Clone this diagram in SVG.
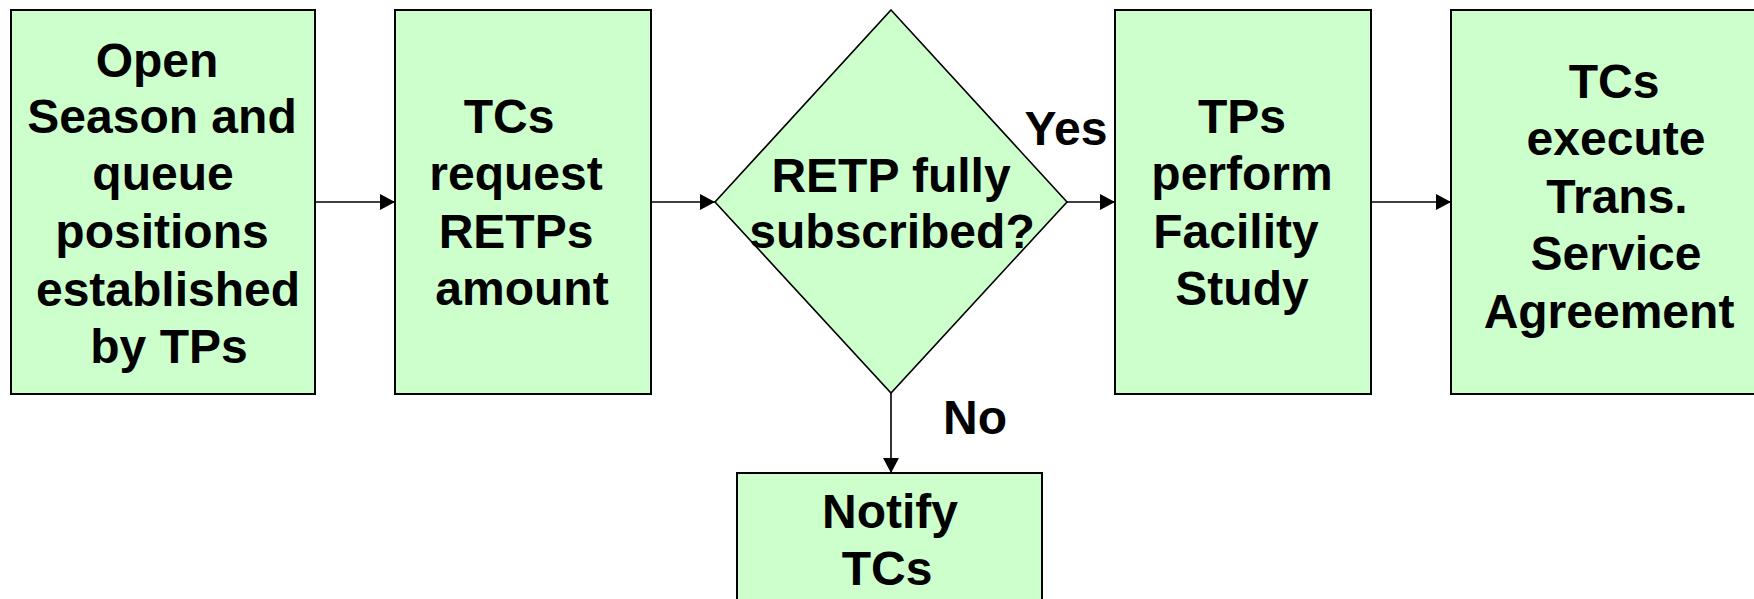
<svg xmlns="http://www.w3.org/2000/svg" width="1754" height="599" viewBox="0 0 1754 599">
<style>
.box{fill:#CCFFCC;stroke:#000;stroke-width:2}
.dia{fill:#CCFFCC;stroke:#000;stroke-width:1.6}
.t{font-family:"Liberation Sans",Arial,sans-serif;font-weight:bold;font-size:48px;fill:#000;text-anchor:middle}
.c{stroke:#000;stroke-width:1.6;fill:none}
</style>
<defs>
<marker id="ah" markerUnits="userSpaceOnUse" markerWidth="15" markerHeight="16" refX="15" refY="8" orient="auto">
<path d="M0,0 L15,8 L0,16 Z" fill="#000"/>
</marker>
</defs>
<rect width="1754" height="599" fill="#fff"/>
<g id="connectors">
<line class="c" x1="315" y1="202" x2="395" y2="202" marker-end="url(#ah)"/>
<line class="c" x1="651" y1="202" x2="715" y2="202" marker-end="url(#ah)"/>
<line class="c" x1="1067" y1="202" x2="1115" y2="202" marker-end="url(#ah)"/>
<line class="c" x1="1371" y1="202" x2="1451" y2="202" marker-end="url(#ah)"/>
<line class="c" x1="891" y1="393" x2="891" y2="473" marker-end="url(#ah)"/>
<text class="t" x="1066" y="145">Yes</text>
<text class="t" x="975" y="434">No</text>
</g>
<g id="open-season">
<rect class="box" x="11" y="10" width="304" height="384"/>
<text class="t" x="157" y="77">Open</text>
<text class="t" x="162" y="133">Season and</text>
<text class="t" x="163" y="190">queue</text>
<text class="t" x="162" y="248">positions</text>
<text class="t" x="168" y="306">established</text>
<text class="t" x="169" y="363">by TPs</text>
</g>
<g id="tcs-request">
<rect class="box" x="395" y="10" width="256" height="384"/>
<text class="t" x="509" y="133">TCs</text>
<text class="t" x="516" y="190">request</text>
<text class="t" x="516" y="248">RETPs</text>
<text class="t" x="522" y="305">amount</text>
</g>
<g id="retp-decision">
<polygon class="dia" points="891,10 1067,202 891,393 715,202"/>
<text class="t" x="891" y="192">RETP fully</text>
<text class="t" x="892" y="248" font-size="49">subscribed?</text>
</g>
<g id="facility-study">
<rect class="box" x="1115" y="10" width="256" height="384"/>
<text class="t" x="1242" y="133">TPs</text>
<text class="t" x="1242" y="190">perform</text>
<text class="t" x="1236" y="248">Facility</text>
<text class="t" x="1242" y="305">Study</text>
</g>
<g id="service-agreement">
<rect class="box" x="1451" y="10" width="322" height="384"/>
<text class="t" x="1614" y="98">TCs</text>
<text class="t" x="1616" y="155">execute</text>
<text class="t" x="1617" y="213">Trans.</text>
<text class="t" x="1616" y="270">Service</text>
<text class="t" x="1609" y="328">Agreement</text>
</g>
<g id="notify-tcs">
<rect class="box" x="737" y="473" width="305" height="160"/>
<text class="t" x="890" y="528">Notify</text>
<text class="t" x="887" y="585">TCs</text>
</g>
</svg>
